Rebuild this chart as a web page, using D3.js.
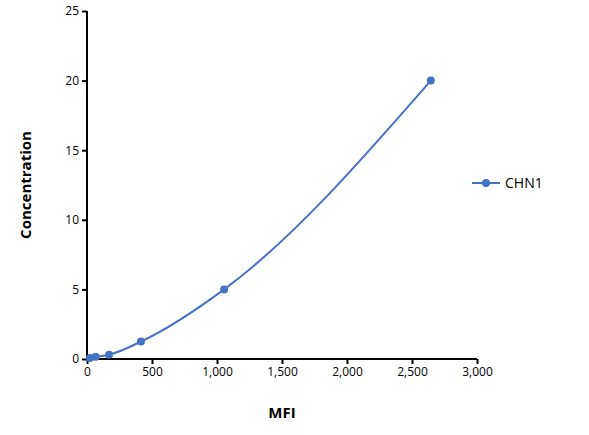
<!DOCTYPE html><html><head><script src="https://cdn.jsdelivr.net/npm/d3@7"></script>
<style>body{margin:0;background:#fff}text{font-family:"Open Sans",Arial,sans-serif}</style></head><body>
<svg id="c" width="589" height="435"></svg>
<script>
const mfi=[23,67,169,415,1055,2645];
const conc=[0.078,0.156,0.31,1.25,5,20];
const xTicks=[0,500,1000,1500,2000,2500,3000];
const yTicks=[0,5,10,15,20,25];
const seriesName="CHN1";
const color="#4472C4";
const svg=d3.select("#c");
const x=d3.scaleLinear().domain([0,3000]).range([87,477]);
const y=d3.scaleLinear().domain([0,25]).range([359,11]);
const gx=svg.append("g").attr("transform","translate(0,359)").call(d3.axisBottom(x).tickValues(xTicks).tickSize(5));
const gy=svg.append("g").attr("transform","translate(87,0)").call(d3.axisLeft(y).tickValues(yTicks).tickSize(5));
[gx,gy].forEach(g=>{g.selectAll("path,line").attr("stroke","#000").attr("stroke-width",2);g.selectAll("text").attr("font-size",12).attr("font-family","Open Sans, Arial");});
gx.select(".domain").attr("d","M87,0H477");
gy.select(".domain").attr("d","M0,359V11");
const pts=mfi.map((m,i)=>[m,conc[i]]);
svg.append("path").datum(pts).attr("fill","none").attr("stroke",color).attr("stroke-width",2)
 .attr("d",d3.line().x(d=>x(d[0])).y(d=>y(d[1])).curve(d3.curveMonotoneX));
svg.selectAll("circle.p").data(pts).enter().append("circle").attr("cx",d=>x(d[0])).attr("cy",d=>y(d[1])).attr("r",4).attr("fill",color);
svg.append("text").attr("x",282).attr("y",418).attr("text-anchor","middle").attr("font-weight","bold").attr("font-size",15).text("MFI");
svg.append("text").attr("transform","translate(31,185) rotate(-90)").attr("text-anchor","middle").attr("font-weight","bold").attr("font-size",15).text("Concentration");
svg.append("line").attr("x1",472).attr("x2",500).attr("y1",183).attr("y2",183).attr("stroke",color).attr("stroke-width",2);
svg.append("circle").attr("cx",486).attr("cy",183).attr("r",4).attr("fill",color);
svg.append("text").attr("x",505).attr("y",188).attr("font-size",14).text(seriesName);
</script></body></html>
